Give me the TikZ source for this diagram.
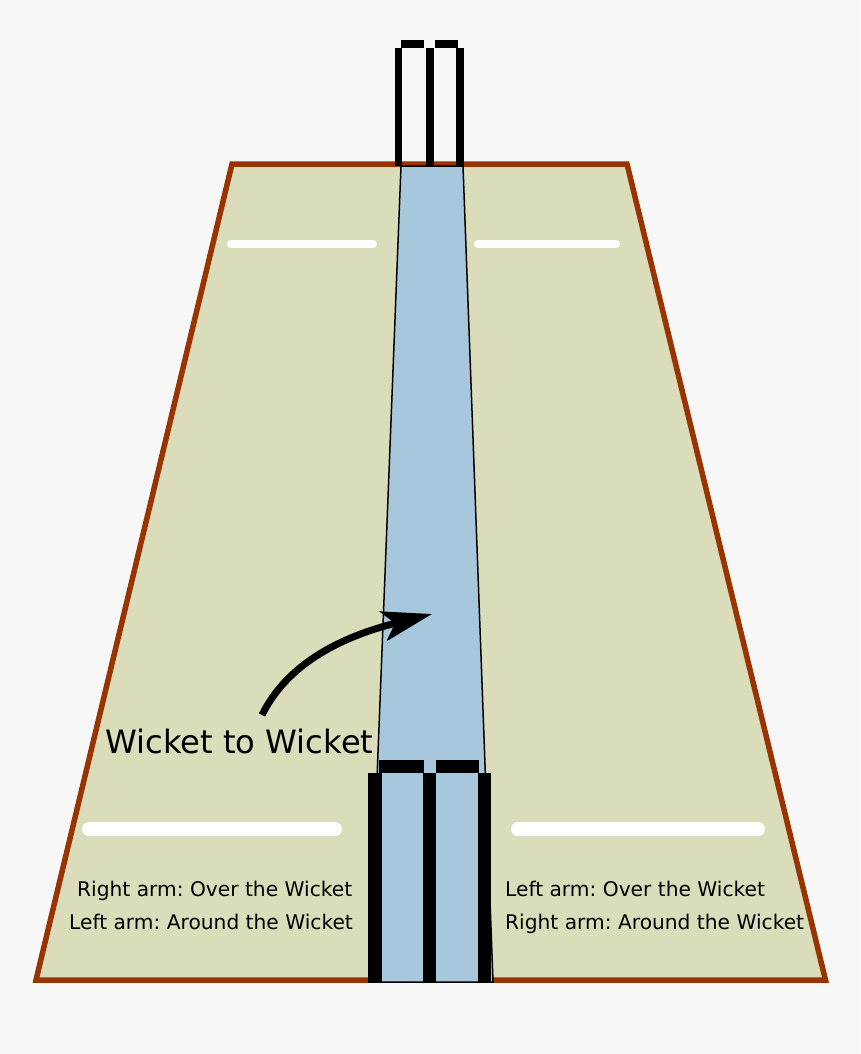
\documentclass[tikz,border=0pt]{standalone}
\usepackage{fontspec}
\setmainfont{DejaVu Sans}
\usetikzlibrary{arrows.meta}
\definecolor{page_bg}{HTML}{F7F7F7}
\definecolor{pitch_fill}{HTML}{DBDCB9}
\definecolor{pitch_edge}{HTML}{993300}
\definecolor{lane_fill}{HTML}{A7C7DD}
\tikzstyle{pitch}=[fill=pitch_fill, draw=pitch_edge, line width=5.5pt, line join=miter]
\tikzstyle{lane}=[fill=lane_fill, draw=black, line width=1.5pt]
\tikzstyle{crease_far}=[draw=white, line width=8pt, line cap=round]
\tikzstyle{crease_near}=[draw=white, line width=14pt, line cap=round]
\tikzstyle{stump}=[fill=black]
\tikzstyle{small_label}=[anchor=base west, inner sep=0pt, font=\frenchspacing\fontsize{20.2}{24}\selectfont]
\tikzstyle{big_label}=[anchor=base west, inner sep=0pt, font=\frenchspacing\fontsize{32.2}{38}\selectfont]
\begin{document}
\begin{tikzpicture}[x=1pt, y=-1pt]
\useasboundingbox (0,0) rectangle (860,1054);
\fill[page_bg] (0,0) rectangle (860,1054);
\draw[pitch] (232,164) -- (627,164) -- (825.5,980) -- (36,980) -- cycle;
\draw[lane] (401,166) -- (463,166) -- (493,982) -- (369,982) -- cycle;
% far wicket
\fill[stump] (394.7,48) rectangle (402.3,166);
\fill[stump] (425.7,48) rectangle (433.7,166);
\fill[stump] (456.3,48) rectangle (464.3,166);
\fill[stump] (400.7,40) rectangle (424.3,48);
\fill[stump] (435,40) rectangle (458,48);
% near wicket
\fill[stump] (368,773.3) rectangle (381.7,983);
\fill[stump] (422.7,773.3) rectangle (436.3,983);
\fill[stump] (477.7,773.3) rectangle (491.3,983);
\fill[stump] (378.7,760) rectangle (424,773.3);
\fill[stump] (436,760) rectangle (479.3,773.3);
% creases
\coordinate (far_l0) at (231,244);
\coordinate (far_l1) at (373,244);
\coordinate (far_r0) at (478,244);
\coordinate (far_r1) at (616,244);
\coordinate (near_l0) at (89,829);
\coordinate (near_l1) at (335,829);
\coordinate (near_r0) at (518,829);
\coordinate (near_r1) at (758,829);
\draw[crease_far](far_l0) -- (far_l1);
\draw[crease_far](far_r0) -- (far_r1);
\draw[crease_near](near_l0) -- (near_l1);
\draw[crease_near](near_r0) -- (near_r1);
% labels
\node[big_label] (wicket) at (105,753) {Wicket to Wicket};
\node[small_label] (right_over) at (77,896) {Right arm: Over the Wicket};
\node[small_label] (left_around) at (69,929) {Left arm: Around the Wicket};
\node[small_label] (left_over) at (505,896) {Left arm: Over the Wicket};
\node[small_label] (right_around) at (505,929) {Right arm: Around the Wicket};
% arrow
\coordinate (arrow_from) at (262,715);
\coordinate (arrow_to) at (432,614);
\draw[line width=7pt, -{Stealth[length=50pt, width=30pt, inset=12pt]}] (arrow_from) .. controls (290,658) and (352,634) .. (arrow_to);
\end{tikzpicture}
\end{document}
